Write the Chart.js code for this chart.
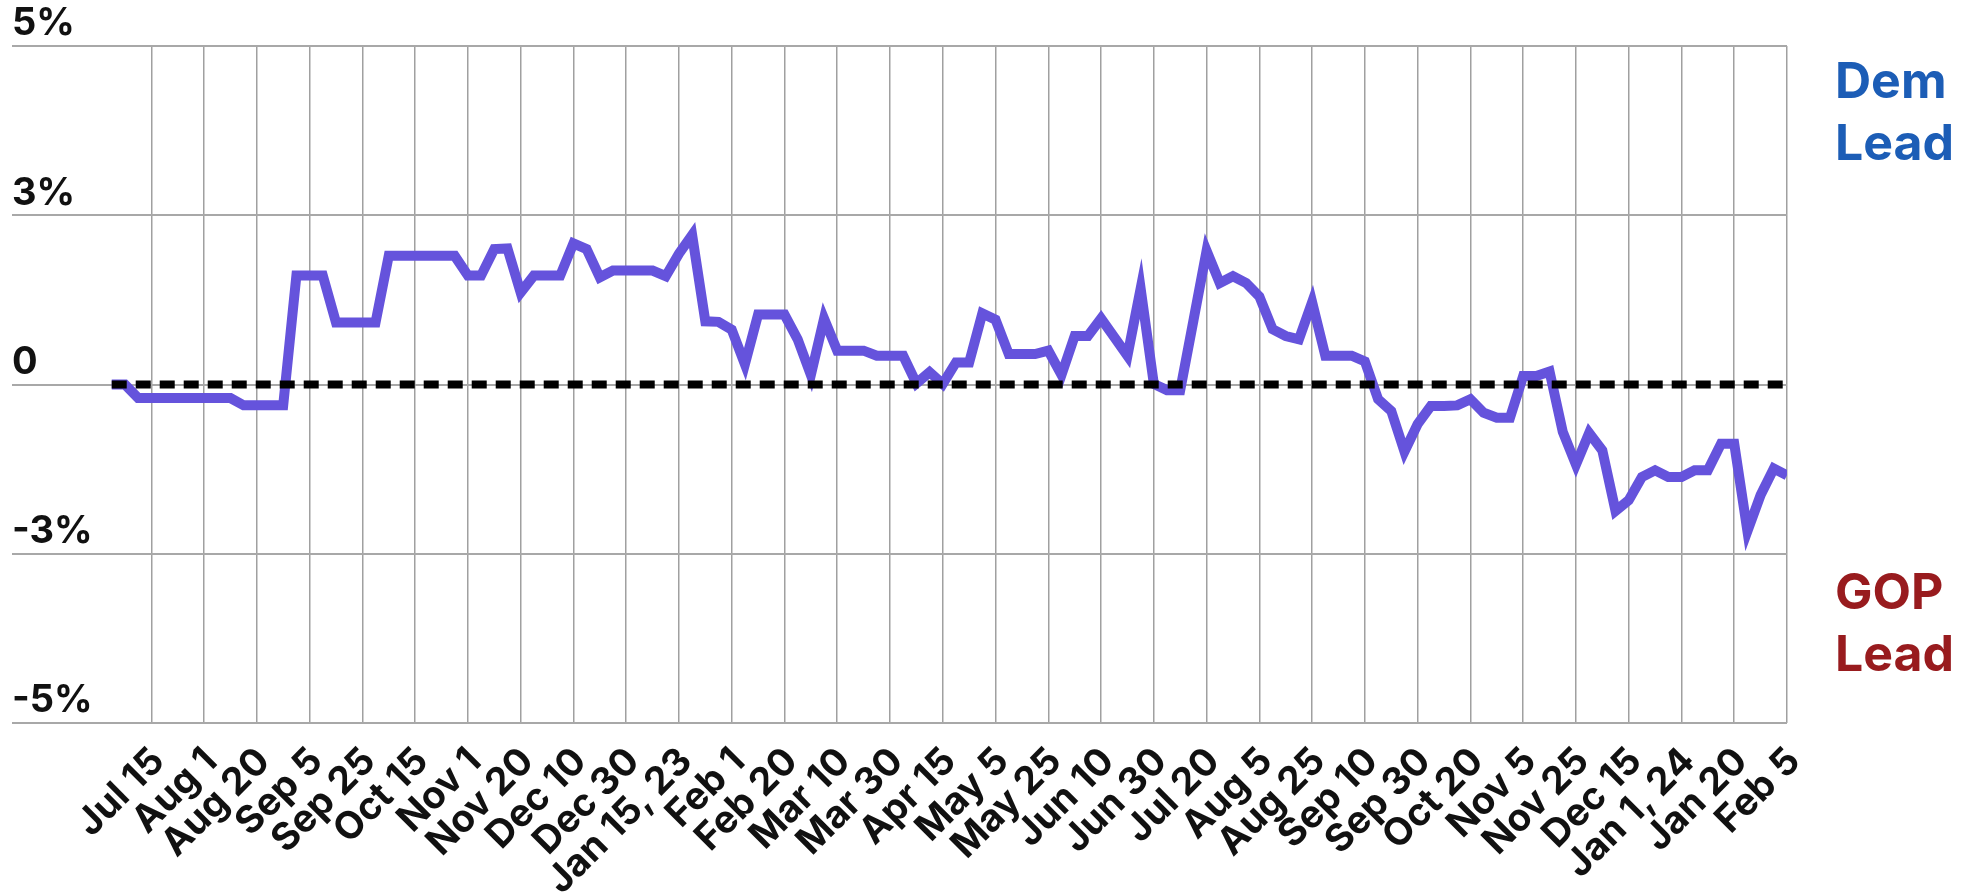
<!DOCTYPE html>
<html>
<head>
<meta charset="utf-8">
<script src="https://cdn.jsdelivr.net/npm/chart.js@4.4.1/dist/chart.umd.min.js"></script>
<style>
  body { margin: 0; background: #fff; }
  .wrap { width: 1962px; height: 894px; position: relative; }
</style>
</head>
<body>
<div class="wrap"><canvas id="leadChart"></canvas></div>
<script>
// generic ballot margin, one value per poll (positive = Dem lead)
const leadValues = [
  0, 0, -0.24, -0.24, -0.24, -0.24, -0.24, -0.24, -0.24, -0.24,
  -0.37, -0.37, -0.37, -0.37, 1.93, 1.93, 1.93, 1.10, 1.10, 1.10,
  1.10, 2.28, 2.28, 2.28, 2.28, 2.28, 2.28, 1.93, 1.93, 2.40,
  2.41, 1.63, 1.93, 1.93, 1.93, 2.50, 2.40, 1.90, 2.02, 2.02,
  2.02, 2.02, 1.92, 2.32, 2.65, 1.12, 1.11, 0.97, 0.36, 1.24,
  1.24, 1.24, 0.80, 0.17, 1.17, 0.60, 0.60, 0.60, 0.51, 0.51,
  0.51, 0.02, 0.22, 0.01, 0.39, 0.39, 1.26, 1.15, 0.54, 0.54,
  0.54, 0.60, 0.17, 0.86, 0.86, 1.17, 0.84, 0.51, 1.70, 0.01,
  -0.10, -0.10, 1.13, 2.37, 1.80, 1.92, 1.80, 1.56, 0.98, 0.86,
  0.80, 1.46, 0.51, 0.51, 0.51, 0.41, -0.26, -0.47, -1.19, -0.70,
  -0.38, -0.38, -0.37, -0.26, -0.50, -0.59, -0.59, 0.15, 0.15, 0.23,
  -0.84, -1.42, -0.86, -1.17, -2.24, -2.05, -1.64, -1.52, -1.64, -1.64,
  -1.52, -1.52, -1.05, -1.05, -2.60, -1.96, -1.49, -1.61
];

// date labels, one every 4th poll starting at the 4th
const tickLabels = [
  'Jul 15', 'Aug 1', 'Aug 20', 'Sep 5', 'Sep 25', 'Oct 15', 'Nov 1', 'Nov 20',
  'Dec 10', 'Dec 30', 'Jan 15, 23', 'Feb 1', 'Feb 20', 'Mar 10', 'Mar 30', 'Apr 15',
  'May 5', 'May 25', 'Jun 10', 'Jun 30', 'Jul 20', 'Aug 5', 'Aug 25', 'Sep 10',
  'Sep 30', 'Oct 20', 'Nov 5', 'Nov 25', 'Dec 15', 'Jan 1, 24', 'Jan 20', 'Feb 5'
];
const tickFirst = 3;
const tickEvery = 4;

const yTickValues = [-6, -3, 0, 3, 6];
const yTickLabels = ['-5%', '-3%', '0', '3%', '5%'];

const sideLabels = [['Dem', 'Lead'], ['GOP', 'Lead']];
const sideColors = ['#1c5db6', '#981b1e'];

const lineColor = '#6553dc';
const fontFamily = 'Inter, "Open Sans", sans-serif';

const sideNotes = {
  id: 'sideNotes',
  afterDraw(chart) {
    const { ctx, chartArea } = chart;
    const x = chartArea.right + 48;
    const tops = [chartArea.top + 52, chartArea.top + 563];
    ctx.save();
    ctx.font = `bold 50px ${fontFamily}`;
    ctx.textAlign = 'left';
    ctx.textBaseline = 'alphabetic';
    sideLabels.forEach((lines, i) => {
      ctx.fillStyle = sideColors[i];
      lines.forEach((txt, j) => ctx.fillText(txt, x, tops[i] + j * 62));
    });
    ctx.restore();
  }
};

const points = leadValues.map((v, i) => ({ x: i, y: v }));
const zeroLine = [{ x: 0, y: 0 }, { x: leadValues.length - 1, y: 0 }];

const config = {
  type: 'line',
  data: {
    datasets: [
      {
        label: 'Zero',
        data: zeroLine,
        borderColor: '#000',
        borderWidth: 8,
        borderDash: [15, 9],
        pointRadius: 0,
        order: 0
      },
      {
        label: 'Margin',
        data: points,
        borderColor: lineColor,
        borderWidth: 10,
        borderJoinStyle: 'miter',
        pointRadius: 0,
        tension: 0,
        order: 1
      }
    ]
  },
  options: {
    responsive: true,
    maintainAspectRatio: false,
    animation: false,
    layout: { padding: { left: 12, top: 46, right: 175, bottom: 0 } },
    plugins: {
      legend: { display: false },
      tooltip: { enabled: false }
    },
    scales: {
      x: {
        type: 'linear',
        min: -7.56,
        max: leadValues.length - 1,
        border: { display: false },
        grid: { color: '#a0a0a0', lineWidth: 1.5, drawTicks: false },
        afterBuildTicks: (scale) => {
          scale.ticks = tickLabels.map((_, k) => ({ value: tickFirst + k * tickEvery }));
        },
        afterFit: (scale) => { scale.height = 171; },
        ticks: {
          autoSkip: false,
          minRotation: 45,
          maxRotation: 45,
          padding: 16,
          labelOffset: 7,
          color: '#111',
          font: { family: fontFamily, size: 38, weight: 'bold' },
          callback: (value) => tickLabels[(value - tickFirst) / tickEvery]
        }
      },
      y: {
        min: -6,
        max: 6,
        border: { display: false },
        grid: { color: '#a8a8a8', lineWidth: 2, drawTicks: false },
        afterBuildTicks: (scale) => {
          scale.ticks = yTickValues.map(v => ({ value: v }));
        },
        afterFit: (scale) => { scale.width = 0; },
        ticks: {
          mirror: true,
          padding: 0,
          labelOffset: -22,
          color: '#111',
          font: { family: fontFamily, size: 38, weight: 'bold' },
          callback: (value) => yTickLabels[yTickValues.indexOf(value)]
        }
      }
    }
  },
  plugins: [sideNotes]
};

const leadChart = new Chart(document.getElementById('leadChart'), config);
</script>
</body>
</html>
